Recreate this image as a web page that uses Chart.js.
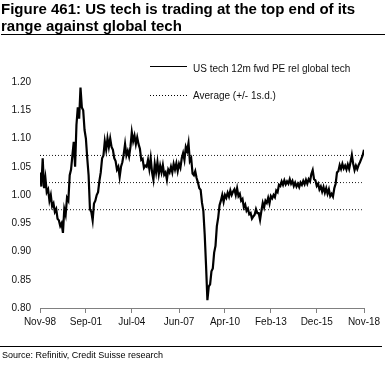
<!DOCTYPE html>
<html>
<head>
<meta charset="utf-8">
<script src="https://cdn.jsdelivr.net/npm/chart.js@4.4.0/dist/chart.umd.min.js"></script>
<style>
  body{margin:0;background:#fff;font-family:"Liberation Sans",Arial,sans-serif;color:#000;}
  #wrap{position:relative;width:390px;height:373px;overflow:hidden;}
  #chart{position:absolute;left:0;top:0;}
  #title{position:absolute;left:1px;top:0;width:384px;height:34px;border-bottom:1px solid #000;
    font-weight:bold;font-size:15px;line-height:17px;}
  .leg{position:absolute;font-size:10px;line-height:12px;color:#111;}
  #legSolid{position:absolute;left:150px;top:66px;width:37px;height:0;border-top:1.5px solid #000;}
  #legDot{position:absolute;left:150px;top:95px;width:38px;height:1px;
    background:repeating-linear-gradient(to right,#000 0 1px,transparent 1px 3px);}
  #srcLine{position:absolute;left:0;top:346px;width:382px;height:1px;background:#000;}
  #source{position:absolute;left:2px;top:350px;font-size:9px;line-height:10px;}
</style>
</head>
<body>
<div id="wrap">
  <canvas id="chart" width="390" height="373"></canvas>
  <div id="title">Figure 461: US tech is trading at the top end of its<br>range against global tech</div>
  <div id="legSolid"></div>
  <div class="leg" style="left:193px;top:63px;">US tech 12m fwd PE rel global tech</div>
  <div id="legDot"></div>
  <div class="leg" style="left:193px;top:90px;">Average (+/- 1s.d.)</div>
  <div id="srcLine"></div>
  <div id="source">Source: Refinitiv, Credit Suisse research</div>
</div>
<script>
/* =====================================================
   DATA (monthly, Nov-98 .. Nov-18)
===================================================== */

const relPE = [
  1.04,1.015,1.065,1.012,1.03,1.005,1.01,0.99,1.0,0.98,0.985,0.97,
  0.975,0.958,0.955,0.945,0.95,0.933,0.975,0.965,0.995,0.99,1.035,1.045,
  1.07,1.094,1.05,1.124,1.155,1.135,1.19,1.155,1.15,1.115,1.1,1.065,
  1.035,0.975,0.97,0.955,0.985,0.99,1.0,1.005,1.025,1.04,1.065,1.07,
  1.095,1.08,1.1,1.085,1.1,1.085,1.08,1.065,1.06,1.045,1.05,1.032,
  1.05,1.058,1.072,1.09,1.07,1.078,1.068,1.085,1.111,1.095,1.105,1.09,
  1.102,1.09,1.082,1.062,1.064,1.048,1.052,1.05,1.062,1.046,1.065,1.04,
  1.027,1.055,1.04,1.058,1.037,1.052,1.04,1.053,1.036,1.04,1.027,1.045,
  1.04,1.05,1.04,1.055,1.045,1.056,1.042,1.055,1.048,1.065,1.074,1.062,
  1.085,1.078,1.092,1.06,1.065,1.038,1.035,1.042,1.03,1.022,1.012,1.009,
  0.986,0.972,0.93,0.875,0.814,0.838,0.842,0.865,0.87,0.898,0.91,0.945,
  0.96,0.982,0.99,1.0,0.988,1.0,0.995,1.004,0.997,1.008,1.0,1.006,
  1.01,1.0,1.012,0.998,1.002,0.99,0.993,0.978,0.983,0.972,0.976,0.966,
  0.968,0.958,0.962,0.965,0.975,0.968,0.968,0.956,0.972,0.986,0.978,0.99,
  0.986,0.995,0.985,0.998,0.994,1.0,0.996,1.008,1.005,1.018,1.016,1.024,
  1.018,1.026,1.019,1.024,1.02,1.028,1.02,1.025,1.016,1.022,1.015,1.02,
  1.014,1.022,1.018,1.025,1.019,1.027,1.02,1.028,1.024,1.037,1.044,1.028,
  1.026,1.016,1.02,1.01,1.015,1.006,1.014,1.004,1.012,1.002,1.01,0.998,
  1.002,0.997,1.012,1.02,1.04,1.042,1.053,1.046,1.055,1.047,1.052,1.045,
  1.054,1.046,1.058,1.071,1.055,1.044,1.052,1.046,1.053,1.058,1.064,1.07,
  1.08
];

const avgValue = 1.022;
const sdValue = 0.048;

const tickIdx = [0,34,68,103,137,171,205,240];
const tickLabels = ["Nov-98","Sep-01","Jul-04","Jun-07","Apr-10","Feb-13","Dec-15","Nov-18"];

const yMin = 0.80;
const yMax = 1.20;
const yStep = 0.05;


/* =====================================================
   CHART
===================================================== */

const pts = relPE.map((v,i) => ({x:i, y:v}));
const flat = (val) => relPE.map((v,i) => ({x:i, y:val}));

const dotted = {
  borderColor:"#000",
  borderWidth:1,
  borderDash:[1,2],
  pointRadius:0,
  fill:false,
  order:1
};

new Chart(document.getElementById("chart").getContext("2d"),{

  type:"line",

  data:{
    datasets:[
      {
        label:"US tech 12m fwd PE rel global tech",
        data:pts,
        borderColor:"#000",
        borderWidth:2.2,
        pointRadius:0,
        tension:0,
        order:0
      },
      Object.assign({label:"Average", data:flat(avgValue)}, dotted),
      Object.assign({label:"+1sd", data:flat(avgValue + sdValue)}, dotted),
      Object.assign({label:"-1sd", data:flat(avgValue - sdValue)}, dotted)
    ]
  },

  options:{
    responsive:false,
    animation:false,
    layout:{
      padding:{top:82, right:26, bottom:0, left:0}
    },
    plugins:{
      legend:{display:false},
      tooltip:{enabled:false}
    },
    scales:{
      x:{
        type:"linear",
        min:0,
        max:relPE.length - 1,
        afterBuildTicks:(scale) => {
          scale.ticks = tickIdx.map(v => ({value:v}));
        },
        afterFit:(scale) => { scale.height = 65; },
        ticks:{
          autoSkip:false,
          maxRotation:0,
          padding:3,
          color:"#111",
          font:{family:"Liberation Sans", size:10},
          callback:(val) => tickLabels[tickIdx.indexOf(val)]
        },
        grid:{
          display:true,
          drawOnChartArea:false,
          drawTicks:true,
          tickLength:5,
          color:"#808080"
        },
        border:{display:true, color:"#808080"}
      },
      y:{
        min:yMin,
        max:yMax,
        afterFit:(scale) => { scale.width = 40; },
        ticks:{
          stepSize:yStep,
          padding:9,
          color:"#111",
          font:{family:"Liberation Sans", size:10},
          callback:(val) => val.toFixed(2)
        },
        grid:{display:false, drawTicks:false},
        border:{display:false}
      }
    }
  }

});
</script>
</body>
</html>
